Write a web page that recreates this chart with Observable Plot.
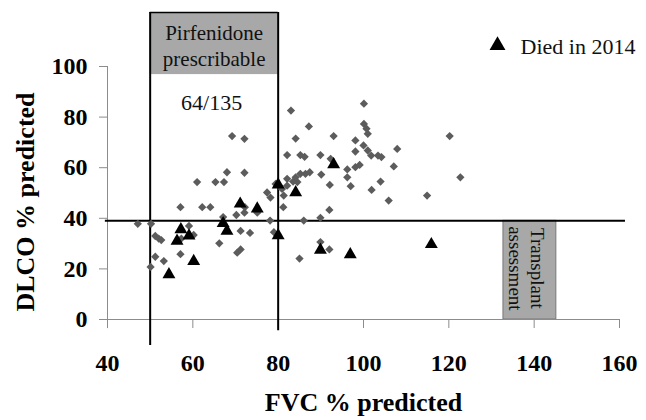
<!DOCTYPE html>
<html><head><meta charset="utf-8">
<script src="https://cdn.jsdelivr.net/npm/d3@7"></script>
<script src="https://cdn.jsdelivr.net/npm/@observablehq/plot@0.6"></script>
<style>body{margin:0;background:#fff} svg{display:block} svg text{font-family:"Liberation Serif","Times New Roman",Times,serif}</style>
</head><body><div id="chart"></div>
<script>
const xTicks = [40, 60, 80, 100, 120, 140, 160];
const yTicks = [0, 20, 40, 60, 80, 100];

// Alive patients (grey diamonds)
const aliveFvc = [47.1, 50.2, 51.2, 52.0, 52.6, 51.2, 50.1, 53.2, 57.1, 59.1, 60.2, 57.3, 57.1, 62.2, 64.1, 61.0, 65.3, 67.3, 68.0, 72.1,
  69.2, 72.1, 66.2, 67.1, 70.2, 72.1, 72.2, 75.1, 71.2, 73.4, 70.4, 71.2, 78.1, 79.0, 81.2, 77.4, 78.2, 81.3, 79.4, 80.9,
  82.1, 83.5, 84.5, 85.0, 86.0, 89.9, 92.0, 89.9, 92.0, 83.0, 84.1, 82.1, 85.2, 86.2, 89.9, 92.3, 87.2, 93.0, 100.1, 100.1,
  100.7, 101.0, 98.1, 100.0, 101.0, 101.8, 103.4, 104.2, 107.9, 98.1, 96.2, 98.1, 99.1, 107.1, 96.2, 85.2, 86.4, 87.4, 90.1, 82.1,
  84.1, 92.1, 97.0, 104.0, 101.9, 122.7, 120.2, 114.9, 105.9];
const aliveDlco = [37.8, 37.8, 33.0, 32.0, 31.4, 24.8, 20.8, 23.1, 25.8, 37.0, 33.4, 32.0, 44.4, 44.4, 44.4, 54.3, 54.3, 54.3, 58.2, 58.0,
  72.5, 71.4, 30.1, 40.5, 41.3, 42.2, 44.4, 42.2, 35.0, 34.2, 26.4, 27.7, 39.1, 34.5, 44.4, 50.2, 48.2, 49.0, 53.6, 51.6,
  52.9, 54.5, 54.3, 24.1, 39.1, 40.2, 43.3, 30.6, 27.7, 82.6, 71.5, 65.0, 65.0, 64.3, 65.0, 63.5, 76.3, 72.5, 85.3, 77.3,
  75.4, 73.4, 70.8, 68.8, 66.8, 64.8, 64.8, 64.2, 67.4, 66.4, 59.3, 60.2, 61.1, 60.5, 56.2, 57.6, 57.6, 58.2, 57.3, 55.6,
  56.2, 53.2, 52.7, 54.5, 51.2, 56.2, 72.5, 49.0, 47.0];

// Died in 2014 (black triangles)
const diedFvc = [54.4, 56.3, 57.2, 59.1, 60.2, 67.1, 68.0, 71.1, 75.1, 80.0, 80.0, 84.1, 89.9, 93.0, 96.9, 115.9];
const diedDlco = [17.8, 31.0, 35.6, 33.1, 23.0, 38.0, 35.0, 45.7, 43.8, 33.2, 53.3, 50.2, 27.5, 61.3, 25.7, 29.7];

const fvcCutoffs = [50, 80];
const dlcoCutoff = 39;
const transplantFvc = [132.8, 145.2];

const xLabel = "FVC % predicted";
const yLabel = "DLCO % predicted";
const boxLabel = "Pirfenidone\nprescribable";
const countLabel = "64/135";
const transplantLabel = "Transplant\nassessment";
const legendLabel = "Died in 2014";

const alive = aliveFvc.map((x, i) => ({fvc: x, dlco: aliveDlco[i]}));
const died = diedFvc.map((x, i) => ({fvc: x, dlco: diedDlco[i]}));

const serif = "Liberation Serif";

const chart = Plot.plot({
  width: 646, height: 420,
  marginLeft: 107, marginRight: 27, marginTop: 66, marginBottom: 101,
  x: {domain: [40, 160], label: null},
  y: {domain: [0, 100], label: null},
  style: {fontFamily: serif, background: "#fff", color: "#000"},
  marks: [
    // Pirfenidone box
    Plot.rect([{x1: fvcCutoffs[0], x2: fvcCutoffs[1], y1: 96.8, y2: 121.3}], {x1: "x1", x2: "x2", y1: "y1", y2: "y2", fill: "#a8a8a8"}),
    Plot.ruleY([{y: 121.3, x1: fvcCutoffs[0], x2: fvcCutoffs[1]}], {y: "y", x1: "x1", x2: "x2", stroke: "#000", strokeWidth: 1.5}),
    // Transplant box
    Plot.rect([{x1: transplantFvc[0], x2: transplantFvc[1], y1: 0, y2: dlcoCutoff}], {x1: "x1", x2: "x2", y1: "y1", y2: "y2", fill: "#a8a8a8", stroke: "#777", strokeWidth: 1}),
    // axis lines
    Plot.ruleY([{y: 0, x1: 40, x2: 160}], {y: "y", x1: "x1", x2: "x2", stroke: "#8c8c8c"}),
    Plot.ruleX([{x: 40, y1: -3.6, y2: 100}], {x: "x", y1: "y1", y2: "y2", stroke: "#8c8c8c"}),
    Plot.axisX({ticks: xTicks, tickSize: 9, tickPadding: 25, fontSize: 24, fontWeight: "bold", fontFamily: serif, color: "#000", stroke: "#8c8c8c", label: null}),
    Plot.axisY({ticks: yTicks, tickSize: 8, tickPadding: 12, fontSize: 24, fontWeight: "bold", fontFamily: serif, color: "#000", stroke: "#8c8c8c", label: null}),
    // threshold lines
    Plot.ruleX([{x: fvcCutoffs[0], y1: -10.3, y2: 121.3}, {x: fvcCutoffs[1], y1: -4.4, y2: 121.3}], {x: "x", y1: "y1", y2: "y2", stroke: "#000", strokeWidth: 2}),
    Plot.ruleY([{y: dlcoCutoff, x1: 39.5, x2: 161.4}], {y: "y", x1: "x1", x2: "x2", stroke: "#000", strokeWidth: 2}),
    // data
    Plot.dot(alive, {x: "fvc", y: "dlco", symbol: "square", rotate: 45, r: 3.3, fill: "#5c5c5c", stroke: "none"}),
    Plot.dot(died, {x: "fvc", y: "dlco", symbol: "triangle", r: 4.8, fill: "#000", stroke: "none"}),
    // annotations
    Plot.text([boxLabel], {x: 65, y: 108.7, text: d => d, fontSize: 21, lineHeight: 1.27, fill: "#111", fontFamily: serif}),
    Plot.text([countLabel], {x: 64.4, y: 85.5, text: d => d, fontSize: 22, fill: "#111", fontFamily: serif}),
    Plot.text([transplantLabel], {x: 138.4, y: 20.2, text: d => d, rotate: 90, fontSize: 19, lineHeight: 1.15, fill: "#111", fontFamily: serif}),
    // axis titles
    Plot.text([yLabel], {frameAnchor: "left", text: d => d, textAnchor: "middle", lineAnchor: "middle", rotate: -90, dx: -82, dy: 9, fontSize: 26, fontWeight: "bold", fontFamily: serif}),
    Plot.text([xLabel], {frameAnchor: "bottom", text: d => d, textAnchor: "middle", lineAnchor: "middle", dy: 83, fontSize: 26, fontWeight: "bold", fontFamily: serif}),
    // legend
    Plot.dot([legendLabel], {frameAnchor: "top-right", dx: -122, dy: -21, symbol: "triangle", r: 5.9, fill: "#000"}),
    Plot.text([legendLabel], {frameAnchor: "top-right", text: d => d, textAnchor: "start", lineAnchor: "middle", dx: -99, dy: -20, fontSize: 22, fill: "#111", fontFamily: serif})
  ]
});
document.getElementById("chart").appendChild(chart);
</script>
</body></html>
